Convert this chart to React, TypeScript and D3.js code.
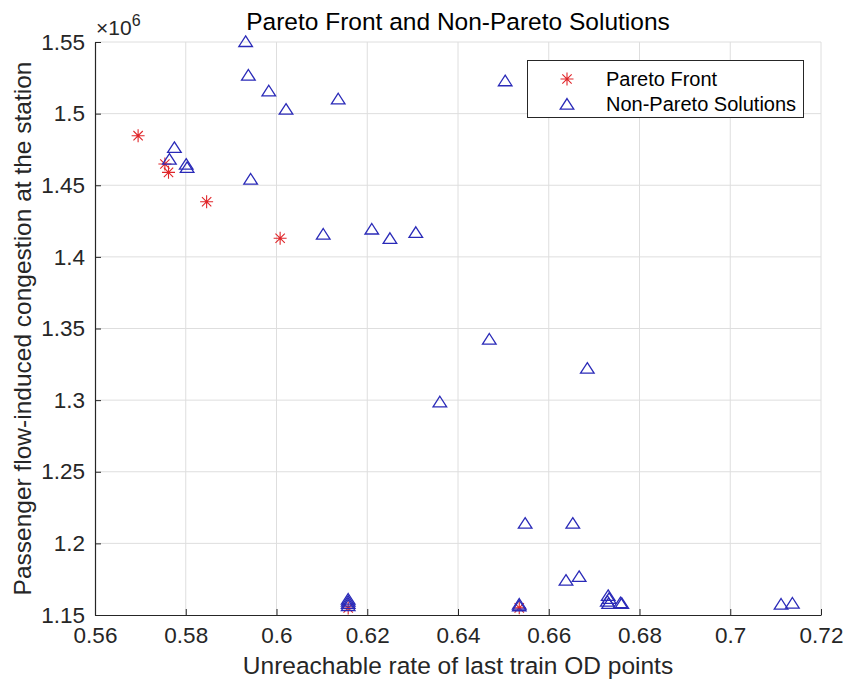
import React, { useEffect, useRef } from 'react';
import * as d3 from 'd3';

// Pareto front solutions: [unreachable rate, congestion (x1e6)]
const paretoX = [0.5695, 0.5754, 0.5762, 0.5846, 0.6008, 0.6158, 0.6535];
const paretoY = [1.4846, 1.4648, 1.459, 1.4385, 1.413, 1.1549, 1.155];

// Non-Pareto solutions
const nonParetoX = [
  0.5932, 0.5938, 0.5983, 0.6021, 0.6136, 0.5775, 0.5764, 0.5801, 0.5803, 0.5943,
  0.6504, 0.6103, 0.621, 0.625, 0.6307, 0.636, 0.6469, 0.6685, 0.6548, 0.6653,
  0.6638, 0.6667, 0.6731, 0.6733, 0.6729, 0.6732, 0.6758, 0.6761, 0.7112, 0.7137,
  0.6158, 0.6158, 0.6158, 0.6158, 0.6535, 0.6535,
];
const nonParetoY = [
  1.5497, 1.5263, 1.5153, 1.5025, 1.5097, 1.4758, 1.4676, 1.4641, 1.4618, 1.4537,
  1.5223, 1.4153, 1.4188, 1.4123, 1.4165, 1.2982, 1.342, 1.3217, 1.2135, 1.2135,
  1.1737, 1.1763, 1.163, 1.161, 1.159, 1.1575, 1.158, 1.1575, 1.157, 1.1577,
  1.1605, 1.159, 1.1575, 1.156, 1.157, 1.1558,
];

const xTicks = [0.56, 0.58, 0.6, 0.62, 0.64, 0.66, 0.68, 0.7, 0.72];
const yTicks = [1.15, 1.2, 1.25, 1.3, 1.35, 1.4, 1.45, 1.5, 1.55];

const legendLabels = ['Pareto Front', 'Non-Pareto Solutions'];

const W = 843;
const H = 687;
const FONT = '"Liberation Sans", Arial, Helvetica, sans-serif';
const RED = '#e0262a';
const BLUE = '#2a2ab8';

const App: React.FC = () => {
  const svgRef = useRef<SVGSVGElement>(null);

  useEffect(() => {
    if (!svgRef.current) return;
    const root = d3.select(svgRef.current);
    root.selectAll('*').remove();

    const margin = { top: 42, right: 22, bottom: 72, left: 95 };
    const innerW = W - margin.left - margin.right;
    const innerH = H - margin.top - margin.bottom;

    const x = d3.scaleLinear().domain([0.56, 0.72]).range([0, innerW]);
    const y = d3.scaleLinear().domain([1.15, 1.55]).range([innerH, 0]);

    root.append('rect').attr('width', W).attr('height', H).attr('fill', '#fff');

    const g = root.append('g').attr('transform', `translate(${margin.left},${margin.top})`);

    // grid
    g.append('g')
      .selectAll('line')
      .data(xTicks.slice(1))
      .enter()
      .append('line')
      .attr('x1', (d) => x(d))
      .attr('x2', (d) => x(d))
      .attr('y1', 0)
      .attr('y2', innerH)
      .style('stroke', '#dedede')
      .style('stroke-width', 1);
    g.append('g')
      .selectAll('line')
      .data(yTicks.slice(1))
      .enter()
      .append('line')
      .attr('x1', 0)
      .attr('x2', innerW)
      .attr('y1', (d) => y(d))
      .attr('y2', (d) => y(d))
      .style('stroke', '#dedede')
      .style('stroke-width', 1);

    // axes (ticks inward)
    const xAxis = d3
      .axisBottom(x)
      .tickValues(xTicks)
      .tickSize(-6)
      .tickSizeOuter(0)
      .tickPadding(12)
      .tickFormat((d) => String(d));
    const yAxis = d3
      .axisLeft(y)
      .tickValues(yTicks)
      .tickSize(-6)
      .tickSizeOuter(0)
      .tickPadding(14)
      .tickFormat((d) => String(d));

    const gx = g.append('g').attr('transform', `translate(0,${innerH})`).call(xAxis);
    const gy = g.append('g').call(yAxis);
    [gx, gy].forEach((ax) => {
      ax.select('.domain').style('stroke', '#262626').style('stroke-width', 1.2);
      ax.selectAll('.tick line').style('stroke', '#262626');
      ax.selectAll('.tick text')
        .style('font-family', FONT)
        .style('font-size', '22.5px')
        .style('fill', '#262626');
    });
    gy.selectAll('.tick text').attr('dx', 4);

    // exponent
    const expo = g.append('text')
      .attr('x', 1)
      .attr('y', -7)
      .style('font-family', FONT)
      .style('font-size', '21px')
      .style('fill', '#262626');
    expo.append('tspan').text('\u00d710');
    expo.append('tspan').attr('dy', -9).style('font-size', '16px').text('6');

    // markers
    const asterisk = (sel: d3.Selection<SVGGElement, unknown, null, undefined>, cx: number, cy: number, r: number) => {
      const p = d3.path();
      p.moveTo(cx - r, cy);
      p.lineTo(cx + r, cy);
      p.moveTo(cx, cy - r);
      p.lineTo(cx, cy + r);
      const k = r * 0.72;
      p.moveTo(cx - k, cy - k);
      p.lineTo(cx + k, cy + k);
      p.moveTo(cx - k, cy + k);
      p.lineTo(cx + k, cy - k);
      sel.append('path').attr('d', p.toString()).style('stroke', RED).style('stroke-width', 1.1).style('fill', 'none');
    };
    const triangle = (sel: d3.Selection<SVGGElement, unknown, null, undefined>, cx: number, cy: number, s: number) => {
      const p = d3.path();
      p.moveTo(cx, cy - s * 0.95);
      p.lineTo(cx + s, cy + s * 0.6);
      p.lineTo(cx - s, cy + s * 0.6);
      p.closePath();
      sel.append('path').attr('d', p.toString()).style('stroke', BLUE).style('stroke-width', 1.3).style('fill', 'none');
    };

    const pts = g.append('g');
    paretoX.forEach((vx, i) => asterisk(pts, x(vx), y(paretoY[i]), 6.5));
    nonParetoX.forEach((vx, i) => triangle(pts, x(vx), y(nonParetoY[i]), 6.8));

    // legend
    const lg = root.append('g');
    lg.append('rect')
      .attr('x', 527.5)
      .attr('y', 60.5)
      .attr('width', 276)
      .attr('height', 57)
      .style('fill', '#fff')
      .style('stroke', '#262626')
      .style('stroke-width', 1);
    legendLabels.forEach((label, i) => {
      const ly = 79 + i * 25;
      if (i === 0) asterisk(lg, 567, ly, 6.5);
      else triangle(lg, 567, ly + 1, 6.8);
      lg.append('text')
        .attr('x', 606)
        .attr('y', ly)
        .attr('dy', '0.36em')
        .style('font-family', FONT)
        .style('font-size', '20px')
        .style('fill', '#000')
        .text(label);
    });

    // title and labels
    root.append('text')
      .attr('x', margin.left + innerW / 2)
      .attr('y', 30)
      .attr('text-anchor', 'middle')
      .style('font-family', FONT)
      .style('font-size', '24.5px')
      .style('fill', '#000')
      .text('Pareto Front and Non-Pareto Solutions');
    root.append('text')
      .attr('x', margin.left + innerW / 2)
      .attr('y', 674)
      .attr('text-anchor', 'middle')
      .style('font-family', FONT)
      .style('font-size', '24.5px')
      .style('fill', '#262626')
      .text('Unreachable rate of last train OD points');
    root.append('text')
      .attr('transform', `translate(31,${margin.top + innerH / 2}) rotate(-90)`)
      .attr('text-anchor', 'middle')
      .style('font-family', FONT)
      .style('font-size', '24.5px')
      .style('fill', '#262626')
      .text('Passenger flow-induced congestion at the station');
  }, []);

  return <svg ref={svgRef} width={W} height={H} style={{ position: 'absolute', left: 0, top: 0 }} />;
};

export default App;
